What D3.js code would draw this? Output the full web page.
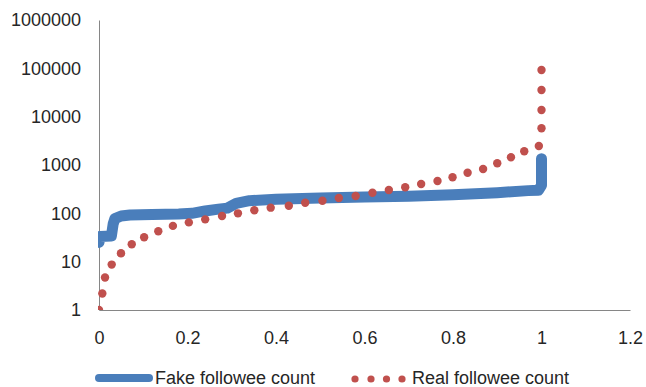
<!DOCTYPE html>
<html>
<head>
<meta charset="utf-8">
<script src="https://cdn.jsdelivr.net/npm/d3@7"></script>
<style>
  html, body { margin: 0; padding: 0; background: #ffffff; }
  svg { display: block; font-family: "Liberation Sans", Arial, sans-serif; }
</style>
</head>
<body>
<svg id="chart" width="646" height="387"></svg>
<script>
// Fake accounts: followee count against cumulative fraction
const fakeX = [0, 0.002, 0.028, 0.032, 0.036, 0.05, 0.07, 0.12, 0.18, 0.21, 0.24, 0.27, 0.29, 0.31, 0.34, 0.4, 0.5, 0.6, 0.7, 0.8, 0.9, 0.97, 0.993, 1.0, 1.0];
const fakeY = [25, 33, 34, 60, 78, 88, 92, 95, 97, 100, 112, 122, 128, 160, 183, 195, 208, 218, 226, 243, 268, 295, 300, 380, 1350];

// Real accounts: followee count against cumulative fraction
const realX = [0, 0.0075, 0.0136, 0.0287, 0.0497, 0.074, 0.102, 0.134, 0.167, 0.203, 0.240, 0.278, 0.314, 0.351, 0.388, 0.429, 0.466, 0.505, 0.542, 0.580, 0.618, 0.655, 0.692, 0.728, 0.765, 0.799, 0.833, 0.868, 0.900, 0.931, 0.961, 0.994, 1.0, 1.0, 1.0, 1.0];
const realY = [1, 2.2, 4.7, 8.7, 14.9, 23, 32, 42.5, 55, 65, 75, 88, 100, 116, 131, 144, 166, 182, 208, 228, 267, 304, 346, 405, 467, 557, 693, 827, 1085, 1445, 1922, 2474, 5750, 13700, 35600, 92400];

// Axis ticks
const xTicks = [0, 0.2, 0.4, 0.6, 0.8, 1, 1.2];
const xTickLabels = ["0", "0.2", "0.4", "0.6", "0.8", "1", "1.2"];
const yTicks = [1, 10, 100, 1000, 10000, 100000, 1000000];
const yTickLabels = ["1", "10", "100", "1000", "10000", "100000", "1000000"];

const seriesNames = ["Fake followee count", "Real followee count"];
const colors = { fake: "#4a7ebb", real: "#c0504d" };

const svg = d3.select("#chart");
const plot = { left: 99, right: 630, top: 20, bottom: 310 };

const x = d3.scaleLinear().domain([0, 1.2]).range([plot.left, plot.right]);
const y = d3.scaleLog().domain([1, 1000000]).range([plot.bottom, plot.top]);

// Plot-area clip
svg.append("defs").append("clipPath").attr("id", "plotClip")
  .append("rect")
  .attr("x", plot.left - 1).attr("y", 0)
  .attr("width", plot.right - plot.left + 20).attr("height", plot.bottom);

// Axes
const axisColor = "#868686";
const textColor = "#262626";

const xAxis = svg.append("g")
  .attr("transform", `translate(0,${plot.bottom})`)
  .call(d3.axisBottom(x).tickValues(xTicks)
    .tickFormat((d, i) => xTickLabels[i]).tickSize(0).tickPadding(21));
const yAxis = svg.append("g")
  .attr("transform", `translate(${plot.left},0)`)
  .call(d3.axisLeft(y).tickValues(yTicks)
    .tickFormat((d, i) => yTickLabels[i]).tickSize(0).tickPadding(18));

[xAxis, yAxis].forEach(g => {
  g.select(".domain").attr("stroke", axisColor).attr("stroke-width", 1);
  g.selectAll("text").attr("fill", textColor).style("font-size", "18px")
    .style("font-family", "'Liberation Sans', Arial, sans-serif");
});

const layer = svg.append("g").attr("clip-path", "url(#plotClip)");

// Fake series: thick solid line
const fakeData = fakeX.map((d, i) => [d, fakeY[i]]);
layer.append("path")
  .datum(fakeData)
  .attr("fill", "none")
  .attr("stroke", colors.fake)
  .attr("stroke-width", 11)
  .attr("stroke-linejoin", "round")
  .attr("stroke-linecap", "round")
  .attr("d", d3.line().x(d => x(d[0])).y(d => y(d[1])));

// Real series: round dots
const realData = realX.map((d, i) => [d, realY[i]]);
layer.selectAll("circle.real")
  .data(realData)
  .join("circle")
  .attr("class", "real")
  .attr("cx", d => x(d[0]))
  .attr("cy", d => y(d[1]))
  .attr("r", 4.2)
  .attr("fill", colors.real);

// Legend
const legend = svg.append("g");
const legY = 378;
legend.append("line")
  .attr("x1", 99).attr("x2", 149).attr("y1", legY).attr("y2", legY)
  .attr("stroke", colors.fake).attr("stroke-width", 8).attr("stroke-linecap", "round");
legend.append("text")
  .attr("x", 155).attr("y", legY).attr("dominant-baseline", "central")
  .attr("fill", textColor).style("font-size", "18px")
  .text(seriesNames[0]);

legend.selectAll("circle.leg")
  .data([355, 371, 386.5, 402])
  .join("circle")
  .attr("class", "leg")
  .attr("cx", d => d).attr("cy", legY + 1)
  .attr("r", 3.6)
  .attr("fill", colors.real);
legend.append("text")
  .attr("x", 412).attr("y", legY).attr("dominant-baseline", "central")
  .attr("fill", textColor).style("font-size", "18px")
  .text(seriesNames[1]);
</script>
</body>
</html>
